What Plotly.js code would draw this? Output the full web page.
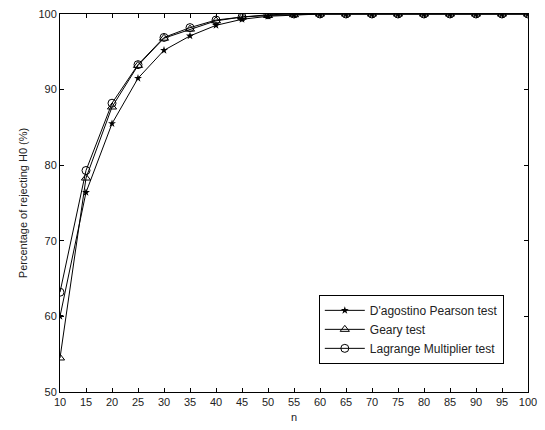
<!DOCTYPE html>
<html>
<head>
<meta charset="utf-8">
<script src="https://cdn.plot.ly/plotly-3.0.1.min.js"></script>
<style>html,body{margin:0;padding:0;background:#fff;}#chart{width:545px;height:430px;}</style>
</head>
<body>
<div id="chart"></div>
<script>
var nValues = [10,15,20,25,30,35,40,45,50,55,60,65,70,75,80,85,90,95,100];
var dagostino = [60.0,76.4,85.5,91.5,95.2,97.1,98.5,99.3,99.7,99.9,100,100,100,100,100,100,100,100,100];
var geary = [54.5,78.3,87.7,93.2,96.8,98.0,99.1,99.6,99.8,99.9,100,100,100,100,100,100,100,100,100];
var lagrange = [63.2,79.3,88.2,93.3,96.9,98.2,99.2,99.6,99.9,100,100,100,100,100,100,100,100,100,100];
var names = ["D'agostino Pearson test","Geary test","Lagrange Multiplier test"];
var xTicks = [10,15,20,25,30,35,40,45,50,55,60,65,70,75,80,85,90,95,100];
var yTicks = [50,60,70,80,90,100];

var line = {color:'#000', width:1};
var traces = [
  {x:nValues, y:dagostino, name:names[0], mode:'lines+markers', line:line,
   marker:{symbol:'star', size:6, color:'#000'}},
  {x:nValues, y:geary, name:names[1], mode:'lines+markers', line:line,
   marker:{symbol:'triangle-up-open', size:8, color:'#000', line:{width:1}}},
  {x:nValues, y:lagrange, name:names[2], mode:'lines+markers', line:line,
   marker:{symbol:'circle-open', size:8, color:'#000', line:{width:1}}}
];
var axisCommon = {showgrid:false, zeroline:false, showline:true, linecolor:'#000', linewidth:1,
  mirror:'ticks', ticks:'inside', ticklen:4, tickcolor:'#000', tickfont:{family:'Liberation Sans, Arial', size:11, color:'#222'}};
var layout = {
  width:545, height:430,
  margin:{l:60, r:17, t:14, b:38},
  paper_bgcolor:'#fff', plot_bgcolor:'#fff',
  font:{family:'Liberation Sans, Arial', color:'#222'},
  xaxis:Object.assign({}, axisCommon, {range:[10,100], tickvals:xTicks, ticktext:xTicks.map(String),
    title:{text:'n', font:{size:11}, standoff:6}}),
  yaxis:Object.assign({}, axisCommon, {range:[50,100], tickvals:yTicks, ticktext:yTicks.map(String),
    title:{text:'Percentage of rejecting H0 (%)', font:{size:11}, standoff:8}}),
  showlegend:true,
  legend:{x:0.553, y:0.257, xanchor:'left', yanchor:'top', bordercolor:'#000', borderwidth:1,
    bgcolor:'#fff', font:{size:12, color:'#222'}, tracegroupgap:0, itemwidth:40}
};
Plotly.newPlot('chart', traces, layout, {displayModeBar:false, staticPlot:true});
</script>
</body>
</html>
